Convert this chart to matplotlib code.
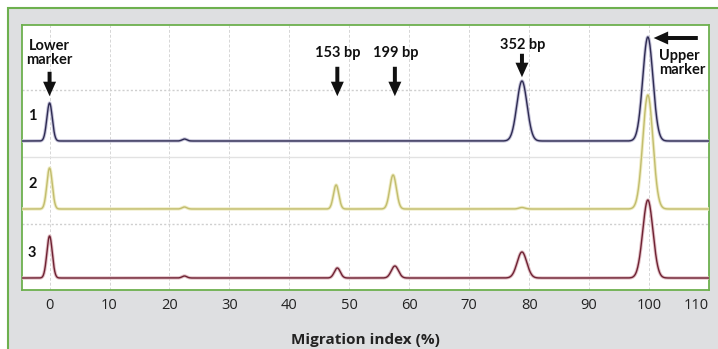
import numpy as np
import matplotlib
matplotlib.use("Agg")
import matplotlib.pyplot as plt
from matplotlib.patches import Rectangle, FancyArrowPatch

# peak tables: position (%), height, width
lane_names = ["1", "2", "3"]
lane_offsets = [149, 81, 12]

lane1_pos = [0.0, 22.5, 78.8, 99.8]
lane1_height = [38, 2, 60, 104]
lane1_width = [0.45, 0.4, 0.85, 0.85]

lane2_pos = [0.0, 22.5, 47.8, 57.3, 78.8, 99.8]
lane2_height = [41, 2, 24, 34, 1.5, 114]
lane2_width = [0.45, 0.4, 0.45, 0.55, 0.5, 0.85]

lane3_pos = [0.0, 22.5, 48.0, 57.6, 78.8, 99.8]
lane3_height = [42, 2, 10, 12, 26, 78]
lane3_width = [0.45, 0.4, 0.5, 0.6, 0.8, 0.85]

x_ticks = [0, 10, 20, 30, 40, 50, 60, 70, 80, 90, 100, 110]

lane_colors = ["#2e2b52", "#c2bd6e", "#6e2233"]
halo_colors = ["#c4c2d8", "#efecc4", "#e0bec4"]

W, H = 718, 349
fig = plt.figure(figsize=(W / 100, H / 100), dpi=100)
fig.patch.set_facecolor("white")

def px(x0, y0, w, h):
    # pixel box (top-left origin) -> figure fraction
    return [x0 / W, 1 - (y0 + h) / H, w / W, h / H]

green = "#6db04e"
bx = px(8, 8, 712, 345)
frame = Rectangle((bx[0], bx[1]), bx[2], bx[3], transform=fig.transFigure,
                  facecolor="#dedfe1", edgecolor=green, lw=1.5, zorder=-5)
fig.add_artist(frame)

ax = fig.add_axes(px(22, 25, 687, 265))
ax.set_zorder(2)
ax.set_facecolor("white")
for s in ax.spines.values():
    s.set_color(green)
    s.set_linewidth(1.3)

ax.set_xlim(-4.6, 110)
ax.set_ylim(0, 265)
ax.set_yticks([])
ax.set_xticks(x_ticks)
ax.tick_params(axis="x", length=0, pad=6, labelsize=10.5, labelcolor="#222222")
for lab in ax.get_xticklabels():
    lab.set_family(["Open Sans", "DejaVu Sans"])
ax.get_xticklabels()[-1].set_horizontalalignment("right")

for xv in x_ticks[:-1]:
    ax.axvline(xv, color="#d6d6d6", lw=0.7, ls=(0, (3, 2)), zorder=1)
ax.axhline(200, color="#cfcfcf", lw=1.0, ls=(0, (1.5, 1.5)), zorder=1)
ax.axhline(133, color="#e2e2e2", lw=1.0, zorder=1)
ax.axhline(66, color="#cfcfcf", lw=1.0, ls=(0, (1.5, 1.5)), zorder=1)

x = np.linspace(-4.6, 110, 3000)
lanes = [(lane1_pos, lane1_height, lane1_width),
         (lane2_pos, lane2_height, lane2_width),
         (lane3_pos, lane3_height, lane3_width)]
for i, (pos, hts, wds) in enumerate(lanes):
    y = np.full_like(x, lane_offsets[i], dtype=float)
    for p, h, w in zip(pos, hts, wds):
        y += h * np.exp(-0.5 * ((x - p) / w) ** 2)
    z = 6 - i
    ax.plot(x, y, color=halo_colors[i], lw=2.4, zorder=z, solid_capstyle="round")
    ax.plot(x, y, color=lane_colors[i], lw=1.0, zorder=z + 0.5)
    ax.text(-2.9, lane_offsets[i] + 25, lane_names[i], fontsize=10.5, fontweight="bold",
            ha="center", va="center", color="#111111", zorder=10,
            family=["Lato", "DejaVu Sans"])

note_font = dict(fontsize=10.5, fontweight="bold", color="#111111", zorder=10,
                 family=["Lato", "DejaVu Sans"], linespacing=1.0)

def arrow(x0, y0, x1, y1):
    ax.add_patch(FancyArrowPatch((x0, y0), (x1, y1),
                                 arrowstyle="simple,head_width=0.85,head_length=0.95,tail_width=0.26",
                                 mutation_scale=11, color="#111111", lw=0, zorder=10))

ax.text(0, 223, "Lower\nmarker", ha="center", va="bottom", **note_font)
arrow(0, 221, 0, 191)
ax.text(48, 237, "153 bp", ha="center", va="center", **note_font)
arrow(48, 226, 48, 191)
ax.text(57.8, 237, "199 bp", ha="center", va="center", **note_font)
arrow(57.6, 226, 57.6, 191)
ax.text(78.9, 245, "352 bp", ha="center", va="center", **note_font)
arrow(78.8, 239, 78.8, 210)
arrow(108.6, 252, 100.3, 252)
ax.text(101.7, 241, "Upper\nmarker", ha="left", va="top", **note_font)

ax.set_xlabel("Migration index (%)", fontsize=11, fontweight="bold", color="#222222",
              labelpad=14, family=["Open Sans", "DejaVu Sans"])

fig.savefig("out.png", dpi=100)
